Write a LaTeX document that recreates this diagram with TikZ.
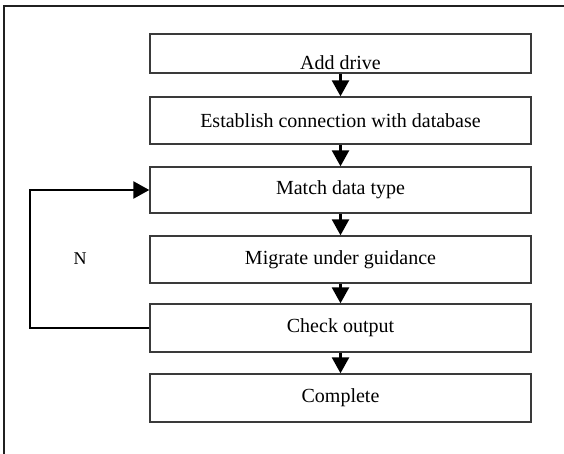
\documentclass[tikz,border=0pt]{standalone}
\usepackage{fontspec}
\setmainfont{Liberation Serif}
\usetikzlibrary{arrows.meta}
\definecolor{boxgray}{HTML}{3A3A3A}
\definecolor{framegray}{HTML}{202020}
\begin{document}
\begin{tikzpicture}[x=1pt,y=-1pt,
  stepbox/.style={draw=boxgray, line width=1.4pt, minimum width=381pt,
    inner sep=0pt, font=\fontsize{20}{24}\selectfont},
  flow/.style={line width=2.6pt, -{Triangle[length=16pt,width=17pt]}},
  lbl/.style={font=\fontsize{18}{22}\selectfont},
]
\useasboundingbox (0,0) rectangle (564,454);

% open outer frame: top and left edges only
\draw[framegray, line width=2.2pt] (4,454) -- (4,6) -- (564,6);

% process steps
\node[stepbox, minimum height=39pt] (b1) at (340.5,53.5) {};
\node[anchor=base, inner sep=0pt, font=\fontsize{20}{24}\selectfont] (t1)
  at ([yshift=4.5pt]b1.south) {Add drive};
\node[stepbox, minimum height=47pt] (b2) at (340.5,120.5) {Establish connection with database};
\node[stepbox, minimum height=46pt] (b3) at (340.5,190) {Match data type};
\node[stepbox, minimum height=47pt] (b4) at (340.5,259.5) {Migrate under guidance};
\node[stepbox, minimum height=48pt] (b5) at (340.5,328) {Check output};
\node[stepbox, minimum height=48pt] (b6) at (340.5,398) {Complete};

% forward flow
\draw[flow] (b1.south) -- (b2.north);
\draw[flow] (b2.south) -- (b3.north);
\draw[flow] (b3.south) -- (b4.north);
\draw[flow] (b4.south) -- (b5.north);
\draw[flow] (b5.south) -- (b6.north);

% retry loop when the output check fails
\coordinate (lp) at (30,0);
\draw[flow] (b5.west) -- (b5.west -| lp) -- (b3.west -| lp) -- (b3.west);
\node[lbl] (n) at (80,259) {N};
\end{tikzpicture}
\end{document}
